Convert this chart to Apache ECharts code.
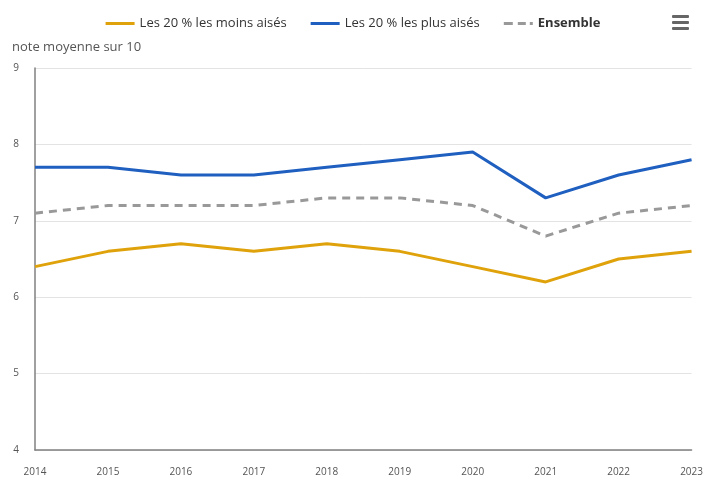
<!DOCTYPE html>
<html>
<head>
<meta charset="utf-8">
<script src="https://cdn.jsdelivr.net/npm/echarts@6/dist/echarts.min.js"></script>
<style>
  html, body { margin: 0; padding: 0; background: #fff; }
  #chart { width: 706px; height: 478px; }
</style>
</head>
<body>
<div id="chart"></div>
<script>
    var years = ['2014', '2015', '2016', '2017', '2018', '2019', '2020', '2021', '2022', '2023'];
    var moinsAises = [6.4, 6.6, 6.7, 6.6, 6.7, 6.6, 6.4, 6.2, 6.5, 6.6];
    var plusAises = [7.7, 7.7, 7.6, 7.6, 7.7, 7.8, 7.9, 7.3, 7.6, 7.8];
    var ensemble = [7.1, 7.2, 7.2, 7.2, 7.3, 7.3, 7.2, 6.8, 7.1, 7.2];

    var font = '"Open Sans", sans-serif';
    var solidIcon = 'path://M0,0H29V3H0Z';
    var dashedIcon = 'path://M0,0H9V3H0ZM14,0H22V3H14ZM26,0H29V3H26Z';

    function lineSeries(name, data, color, dashed) {
        return {
            name: name,
            type: 'line',
            data: data,
            symbol: 'none',
            showSymbol: false,
            lineStyle: {color: color, width: 3, type: dashed ? [8, 6] : 'solid'},
            itemStyle: {color: color}
        };
    }

    var chart = echarts.init(document.getElementById('chart'));
    chart.setOption({
        animation: false,
        textStyle: {fontFamily: font},
        legend: {
            top: 12,
            left: 'center',
            itemWidth: 29,
            itemHeight: 3,
            itemGap: 24,
            textStyle: {color: '#333', fontSize: 13, fontFamily: font},
            data: [
                {name: 'Les 20 % les moins aisés', icon: solidIcon},
                {name: 'Les 20 % les plus aisés', icon: solidIcon},
                {name: 'Ensemble', icon: dashedIcon, textStyle: {fontWeight: 'bold'}}
            ]
        },
        graphic: [
            {type: 'text', left: 12, top: 41, style: {text: 'note moyenne sur 10', fill: '#555', font: '13px ' + font}},
            {type: 'rect', left: 672, top: 15, shape: {width: 17, height: 3, r: 1}, style: {fill: '#666'}},
            {type: 'rect', left: 672, top: 21, shape: {width: 17, height: 3, r: 1}, style: {fill: '#666'}},
            {type: 'rect', left: 672, top: 27, shape: {width: 17, height: 3, r: 1}, style: {fill: '#666'}}
        ],
        grid: {left: 35, right: 11, top: 68, bottom: 28},
        xAxis: {
            type: 'category',
            data: years,
            boundaryGap: false,
            axisLine: {lineStyle: {color: '#808080', width: 1.5}},
            axisTick: {show: false},
            axisLabel: {color: '#555', fontSize: 10, margin: 17, fontFamily: font}
        },
        yAxis: {
            type: 'value',
            min: 4,
            max: 9,
            interval: 1,
            axisLine: {show: true, lineStyle: {color: '#808080', width: 1.5}},
            axisTick: {show: false},
            axisLabel: {color: '#555', fontSize: 10, margin: 16, fontFamily: font},
            splitLine: {lineStyle: {color: '#e3e3e3'}}
        },
        series: [
            lineSeries('Les 20 % les moins aisés', moinsAises, '#dfa20b', false),
            lineSeries('Les 20 % les plus aisés', plusAises, '#1f5fc0', false),
            lineSeries('Ensemble', ensemble, '#999999', true)
        ]
    });
</script>
</body>
</html>
